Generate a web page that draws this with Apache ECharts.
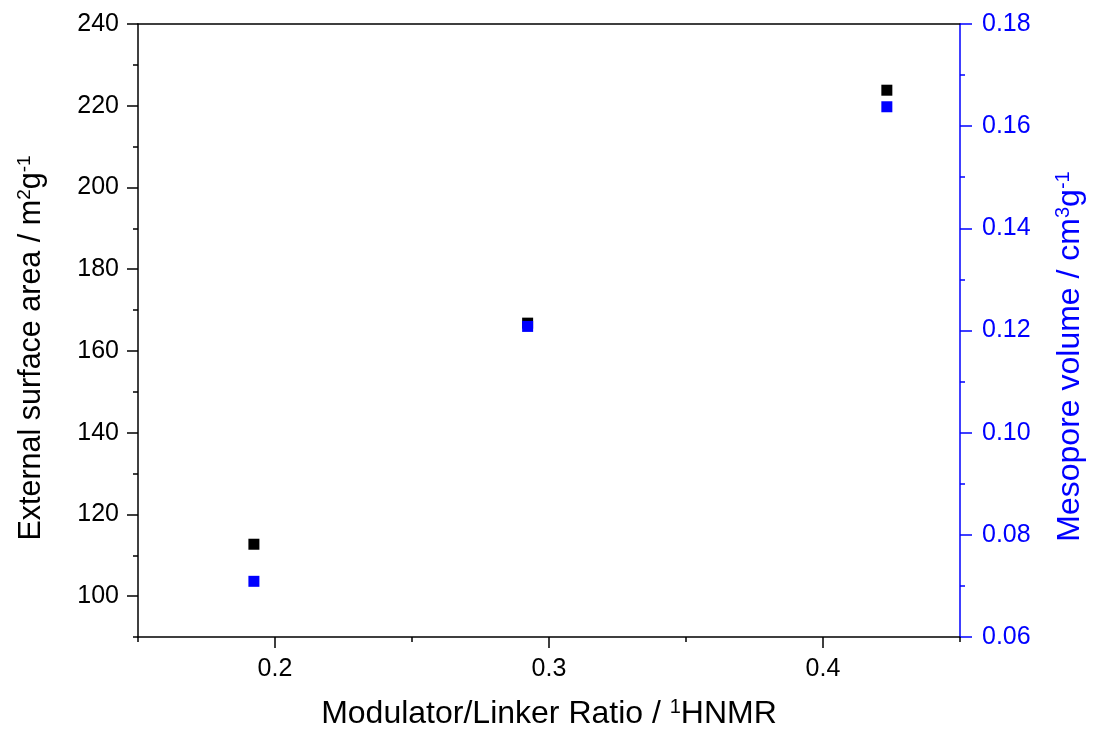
<!DOCTYPE html>
<html>
<head>
<meta charset="utf-8">
<script src="https://cdn.jsdelivr.net/npm/echarts@6/dist/echarts.min.js"></script>
<style>html,body{margin:0;padding:0;background:#fff;}#c{width:1094px;height:735px;}</style>
</head>
<body>
<div id="c"></div>
<script>
const ratio = [0.1923, 0.2922, 0.4233];
const surfaceArea = [112.7, 166.8, 223.8];
const mesoVolume = [0.0709, 0.1208, 0.1638];
const xMajorTicks = [0.2, 0.3, 0.4];
const leftMajorTicks = [100, 120, 140, 160, 180, 200, 220, 240];

const FONT = 'Liberation Sans, Arial, sans-serif';
const chart = echarts.init(document.getElementById('c'));
const black = '#000000', blue = '#0000ff';

function richFor(color, size) {
  return {
    n: { fontSize: size, color: color, fontFamily: FONT, lineHeight: size + 2 },
    sup: { fontSize: Math.round(size * 0.62), color: color, fontFamily: FONT, verticalAlign: 'top', lineHeight: Math.round(size * 0.62) }
  };
}

chart.setOption({
  animation: false,
  backgroundColor: '#fff',
  grid: { left: 138, right: 132, top: 24, bottom: 97, containLabel: false },
  xAxis: [
    {
      type: 'value', position: 'bottom', min: 0.15, max: 0.45, interval: 0.05,
      axisLine: { show: true, onZero: false, lineStyle: { color: black, width: 1.5 } },
      axisTick: { show: true, inside: false, length: 5, lineStyle: { color: black, width: 1.5 } },
      axisLabel: { customValues: xMajorTicks, fontSize: 25, color: black, fontFamily: FONT, margin: 20 },
      splitLine: { show: false },
      name: '{n|Modulator/Linker Ratio / }{sup|1}{n|HNMR}',
      nameLocation: 'middle', nameGap: 60,
      nameTextStyle: { rich: richFor(black, 32) }
    },
    {
      type: 'value', position: 'bottom', min: 0.15, max: 0.45, interval: 0.05,
      axisLine: { show: false, onZero: false },
      axisTick: { show: true, inside: false, length: 11, customValues: xMajorTicks, lineStyle: { color: black, width: 1.5 } },
      axisLabel: { show: false },
      splitLine: { show: false }
    },
    {
      type: 'value', position: 'top', min: 0.15, max: 0.45, interval: 0.05,
      axisLine: { show: true, onZero: false, lineStyle: { color: black, width: 1.5 } },
      axisTick: { show: false }, axisLabel: { show: false }, splitLine: { show: false }
    }
  ],
  yAxis: [
    {
      type: 'value', position: 'left', min: 90, max: 240, interval: 10,
      axisLine: { show: true, onZero: false, lineStyle: { color: black, width: 1.5 } },
      axisTick: { show: true, inside: false, length: 5, lineStyle: { color: black, width: 1.5 } },
      axisLabel: { customValues: leftMajorTicks, fontSize: 25, color: black, fontFamily: FONT, margin: 19 },
      splitLine: { show: false },
      name: '{n|External surface area / m}{sup|2}{n|g}{sup|-1}',
      nameLocation: 'middle', nameGap: 90, nameRotate: 90,
      nameTextStyle: { rich: richFor(black, 30.5), padding: [0, 35, 0, 0] }
    },
    {
      type: 'value', position: 'left', min: 90, max: 240, interval: 10,
      axisLine: { show: false, onZero: false },
      axisTick: { show: true, inside: false, length: 11, customValues: leftMajorTicks, lineStyle: { color: black, width: 1.5 } },
      axisLabel: { show: false },
      splitLine: { show: false }
    },
    {
      type: 'value', position: 'right', min: 0.06, max: 0.18, interval: 0.02,
      axisLine: { show: true, onZero: false, lineStyle: { color: blue, width: 1.5 } },
      axisTick: { show: true, inside: false, length: 12, lineStyle: { color: blue, width: 1.5 } },
      minorTick: { show: true, splitNumber: 2, length: 5, lineStyle: { color: blue, width: 1.5 } },
      axisLabel: { fontSize: 25, color: blue, fontFamily: FONT, margin: 22, formatter: v => v.toFixed(2) },
      splitLine: { show: false },
      name: '{n|Mesopore volume / cm}{sup|3}{n|g}{sup|-1}',
      nameLocation: 'middle', nameGap: 93, nameRotate: 90,
      nameTextStyle: { rich: richFor(blue, 32), padding: [0, 52, 0, 0] }
    }
  ],
  series: [
    {
      type: 'scatter', xAxisIndex: 0, yAxisIndex: 0, symbol: 'rect', symbolSize: 11,
      itemStyle: { color: black, opacity: 1 },
      data: ratio.map((x, i) => [x, surfaceArea[i]])
    },
    {
      type: 'scatter', xAxisIndex: 0, yAxisIndex: 2, symbol: 'rect', symbolSize: 11,
      itemStyle: { color: blue, opacity: 1 },
      data: ratio.map((x, i) => [x, mesoVolume[i]])
    }
  ]
});
</script>
</body>
</html>
